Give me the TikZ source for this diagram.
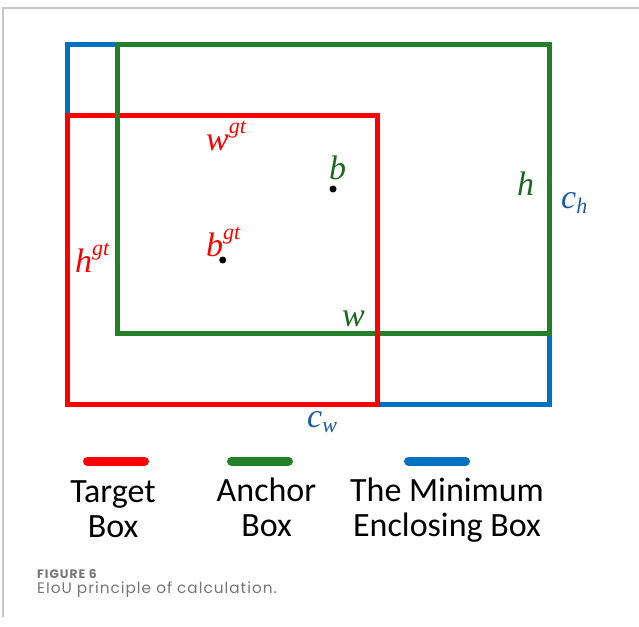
\documentclass[tikz,border=0pt]{standalone}
\usepackage{fontspec}
\setmainfont{Liberation Serif}
\newfontfamily\legendfont{Carlito}
\newfontfamily\capfont[LetterSpace=6.5]{Poppins}
\newfontfamily\capboldfont[LetterSpace=8]{Poppins}
\definecolor{boxred}{RGB}{255,0,0}
\definecolor{boxgreen}{RGB}{36,128,40}
\definecolor{boxblue}{RGB}{0,112,192}
\definecolor{txtgreen}{RGB}{28,104,32}
\definecolor{txtblue}{RGB}{28,92,162}
\definecolor{capgray}{RGB}{118,118,118}
\definecolor{framegray}{RGB}{200,200,200}
\newcommand{\suplab}[2]{\textit{#1}\raisebox{0.48em}{\fontsize{22}{22}\selectfont\textit{#2}}}
\newcommand{\sublab}[2]{\textit{#1}\raisebox{-0.15em}{\fontsize{22}{22}\selectfont\textit{#2}}}
\tikzset{
  boxline/.style={line width=5pt},
  legline/.style={line width=9pt, line cap=round},
  mathlab/.style={inner sep=0pt, anchor=base west, font=\fontsize{34}{34}\selectfont},
  legtext/.style={inner sep=0pt, anchor=base, font=\legendfont\fontsize{34}{35}\selectfont},
  centre/.style={circle, fill=black, inner sep=0pt, minimum size=7pt}
}
\begin{document}
\begin{tikzpicture}[x=1pt,y=-1pt]
\useasboundingbox (0,0) rectangle (639,626);
% frame
\draw[framegray, line width=1.2pt] (3,617) -- (3,8) -- (639,8);
% corner coordinates
\coordinate (cTL) at (67,44.5);
\coordinate (cBR) at (549,404);
\coordinate (tTL) at (67,115.5);
\coordinate (tBR) at (377.5,404);
\coordinate (tTR) at (377.5,115.5);
\coordinate (aTL) at (117,44.5);
\coordinate (aBR) at (549,333.5);
% boxes
\draw[boxline, boxblue] (cTL) rectangle (cBR);
\draw[boxline, boxred] (tTL) rectangle (tBR);
\draw[boxline, boxgreen] (aTL) rectangle (aBR);
\draw[boxline, boxred] (tTR) -- (tBR);
% centres
\node[centre] (bgtdot) at (222.7,260) {};
\node[centre] (bdot) at (333,189) {};
% labels
\node[mathlab, boxred] (wgt) at (206,150) {\suplab{w}{gt}};
\node[mathlab, boxred] (hgt) at (75,272) {\suplab{h}{gt}};
\node[mathlab, boxred] (bgt) at (206,256) {\suplab{b}{gt}};
\node[mathlab, txtgreen] (blab) at (329,179) {\textit{b}};
\node[mathlab, txtgreen] (hlab) at (517,195) {\textit{h}};
\node[mathlab, txtgreen] (wlab) at (342,326) {\textit{w}};
\node[mathlab, txtblue] (chlab) at (561,208) {\sublab{c}{h}};
\node[mathlab, txtblue] (cwlab) at (307,427) {\sublab{c}{w}};
% legend
\coordinate (lr1) at (87.5,461); \coordinate (lr2) at (144.5,461);
\coordinate (lg1) at (231.5,461); \coordinate (lg2) at (288.5,461);
\coordinate (lb1) at (408.5,461); \coordinate (lb2) at (465.5,461);
\draw[legline, boxred] (lr1) -- (lr2);
\draw[legline, boxgreen] (lg1) -- (lg2);
\draw[legline, boxblue] (lb1) -- (lb2);
\node[legtext] (legt) at (113,502) {\begin{tabular}[t]{@{}c@{}}Target\\Box\end{tabular}};
\node[legtext] (lega) at (266.5,501) {\begin{tabular}[t]{@{}c@{}}Anchor\\Box\end{tabular}};
\node[legtext] (legb) at (447,501) {\begin{tabular}[t]{@{}c@{}}The Minimum\\Enclosing Box\end{tabular}};
% caption
\node[inner sep=0pt, anchor=base west, text=capgray, font=\capboldfont\bfseries\fontsize{12.3}{13}\selectfont] (capnum) at (37,578) {FIGURE 6};
\node[inner sep=0pt, anchor=base west, text=capgray, font=\capfont\fontsize{15.3}{16}\selectfont] (captxt) at (37,593.3) {EIoU principle of calculation.};
\end{tikzpicture}
\end{document}
